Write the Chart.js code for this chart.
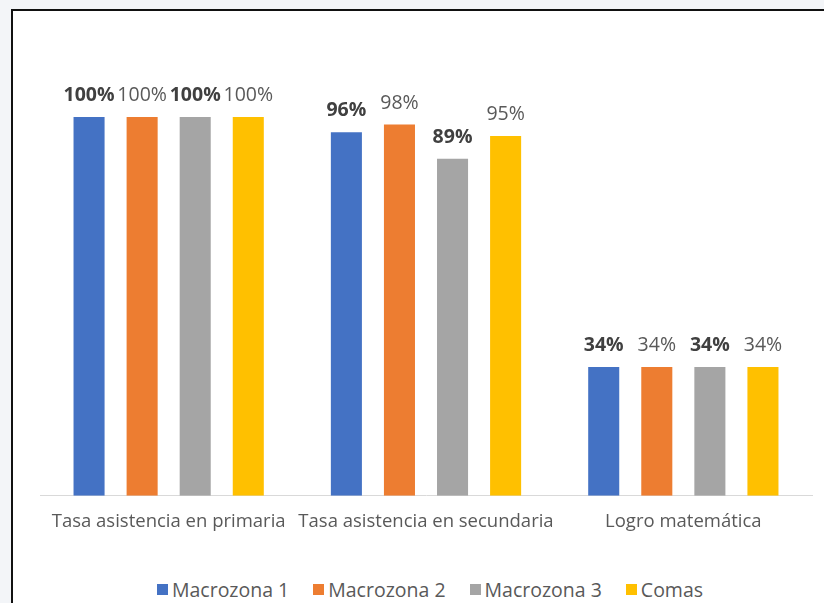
<!DOCTYPE html>
<html lang="es">
<head>
<meta charset="utf-8">
<title>Indicadores por macrozona</title>
<script src="https://cdn.jsdelivr.net/npm/chart.js@4.4.1/dist/chart.umd.min.js"></script>
<style>
    body { margin: 0; width: 824px; height: 603px; background: #f3f5f8; position: relative; overflow: hidden; font-family: "Open Sans", sans-serif; }
    #marco { position: absolute; left: 11px; top: 9px; width: 813px; height: 594px; background: #fff; border-top: 2px solid #111; border-left: 2px solid #111; }
    #contenedor { position: absolute; left: 32px; top: 12px; width: 792px; height: 536px; }
    #leyenda { position: absolute; left: 0; width: 860px; top: 576px; display: flex; justify-content: center; font-size: 19.5px; color: #595959; }
    #leyenda span { display: flex; align-items: center; margin: 0 12px; }
    #leyenda i { display: inline-block; width: 11px; height: 11px; margin-right: 4px; }
</style>
</head>
<body>
<div id="marco"></div>
<div id="contenedor"><canvas id="grafica"></canvas></div>
<div id="leyenda"></div>
<script>
// datos
let categorias = ["Tasa asistencia en primaria", "Tasa asistencia en secundaria", "Logro matemática"];
let macrozona1 = [100, 96, 34];
let macrozona2 = [100, 98, 34];
let macrozona3 = [100, 89, 34];
let comas = [100, 95, 34];
let series = ["Macrozona 1", "Macrozona 2", "Macrozona 3", "Comas"];
let colores = ["#4472C4", "#ED7D31", "#A5A5A5", "#FFC000"];
let negrita = [true, false, true, false];

let valores = [macrozona1, macrozona2, macrozona3, comas];

// etiquetas de porcentaje sobre cada barra
let etiquetas = {
    id: "etiquetas",
    afterDatasetsDraw(chart) {
        let ctx = chart.ctx;
        ctx.save();
        ctx.textAlign = "center";
        ctx.textBaseline = "alphabetic";
        chart.data.datasets.forEach((ds, i) => {
            let meta = chart.getDatasetMeta(i);
            ctx.font = (negrita[i] ? "bold " : "") + "19.5px 'Open Sans'";
            ctx.fillStyle = negrita[i] ? "#404040" : "#595959";
            meta.data.forEach((barra, j) => {
                ctx.fillText(ds.data[j] + "%", barra.x, barra.y - 16);
            });
        });
        ctx.restore();
    }
};

let ctx = document.getElementById("grafica").getContext("2d");
let grafica = new Chart(ctx, {
    type: "bar",
    data: {
        labels: categorias,
        datasets: series.map((nombre, i) => ({
            label: nombre,
            data: valores[i],
            backgroundColor: colores[i],
            categoryPercentage: 0.825,
            barPercentage: 0.585
        }))
    },
    options: {
        responsive: true,
        maintainAspectRatio: false,
        animation: false,
        layout: { padding: { top: 105, left: 8, right: 12, bottom: 0 } },
        plugins: {
            legend: { display: false },
            tooltip: { enabled: false }
        },
        scales: {
            x: {
                grid: { display: false, drawTicks: false },
                border: { color: "#D9D9D9", width: 1 },
                ticks: {
                    color: "#595959",
                    padding: 15,
                    maxRotation: 0,
                    minRotation: 0,
                    autoSkip: false,
                    font: { family: "'Open Sans'", size: 18.5 }
                }
            },
            y: {
                display: false,
                min: 0,
                max: 100
            }
        }
    },
    plugins: [etiquetas]
});

// leyenda en html con los mismos colores
let leyenda = document.getElementById("leyenda");
series.forEach((nombre, i) => {
    let item = document.createElement("span");
    item.innerHTML = `<i style="background:${colores[i]}"></i>${nombre}`;
    leyenda.appendChild(item);
});
</script>
</body>
</html>
